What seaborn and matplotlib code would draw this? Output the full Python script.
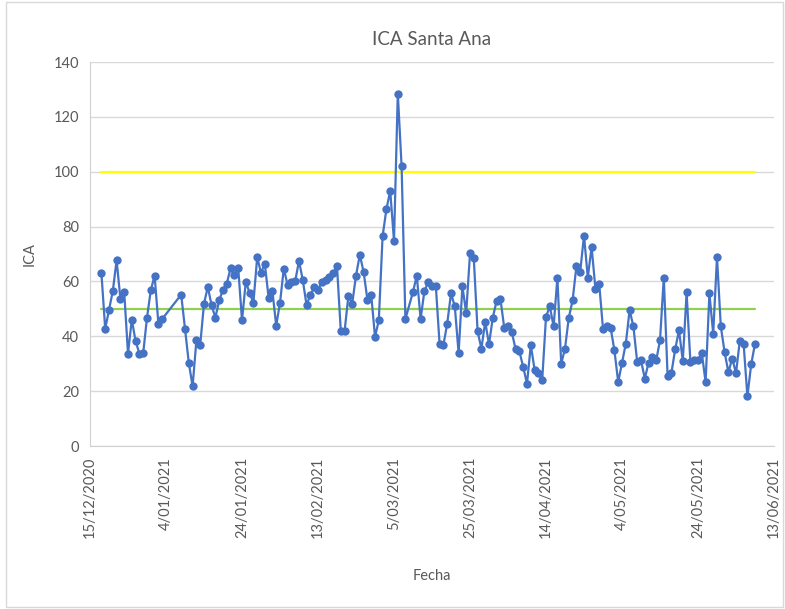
import pandas as pd
import numpy as np
import seaborn as sns
import matplotlib.pyplot as plt
import matplotlib.dates as mdates
from matplotlib.ticker import FuncFormatter, MultipleLocator
from matplotlib.patches import Rectangle

# Datos: ICA diario (Santa Ana)
# 18/12/2020 - 3/01/2021
ica_dic = [63.1, 42.7, 49.7, 56.5, 67.7, 53.7, 56.2, 33.7, 46.1, 38.2,
           33.7, 33.9, 46.8, 56.8, 62.1, 44.6, 46.3]
# 8/01/2021 - 8/03/2021
ica_ene_mar = [55.2, 42.7, 30.3, 21.8, 38.5, 36.8, 51.9, 58.0, 51.3, 46.8,
               53.1, 57.0, 59.2, 64.9, 62.5, 65.0, 45.8, 59.9, 55.8, 52.2,
               68.9, 63.1, 66.5, 54.1, 56.5, 43.9, 52.2, 64.7, 58.7, 59.8,
               60.1, 67.5, 60.4, 51.3, 55.2, 57.8, 56.8, 59.9, 60.7, 61.6,
               62.9, 65.5, 41.9, 41.9, 54.7, 51.9, 62.1, 69.7, 63.5, 53.4,
               55.2, 39.8, 45.8, 76.5, 86.3, 93.0, 74.8, 128.5, 102.0, 46.3]
# 10/03/2021 - 8/06/2021
ica_mar_jun = [56.2, 62.1, 46.3, 56.5, 59.7, 58.5, 58.5, 37.1, 36.8, 44.6,
               55.6, 50.9, 33.9, 58.2, 48.5, 70.2, 68.4, 41.8, 35.5, 45.3,
               37.1, 46.8, 52.9, 53.7, 43.2, 43.6, 41.5, 35.3, 34.5, 28.8,
               22.7, 36.8, 27.8, 26.6, 24.0, 47.1, 50.9, 43.6, 61.4, 30.0,
               35.5, 46.8, 53.1, 65.5, 63.5, 76.7, 61.4, 72.6, 57.4, 59.2,
               42.7, 43.6, 43.2, 34.9, 23.3, 30.4, 37.3, 49.5, 43.6, 30.6,
               31.2, 24.6, 30.4, 32.5, 31.2, 38.5, 61.4, 25.4, 26.6, 35.3,
               42.2, 31.0, 56.0, 30.6, 31.5, 31.2, 33.9, 23.3, 55.6, 41.0,
               68.9, 43.6, 34.2, 26.9, 31.9, 26.6, 38.3, 37.3, 18.1, 29.8,
               37.3]

fechas = pd.concat([
    pd.Series(pd.date_range('2020-12-18', '2021-01-03')),
    pd.Series(pd.date_range('2021-01-08', '2021-03-08')),
    pd.Series(pd.date_range('2021-03-10', '2021-06-08')),
], ignore_index=True)

limite_alto = 100
limite_bajo = 50

df = pd.DataFrame({'Fecha': fechas, 'ICA': ica_dic + ica_ene_mar + ica_mar_jun})
df['alto'] = limite_alto
df['bajo'] = limite_bajo

sns.set_style("white")
plt.rcParams['font.family'] = ['Lato', 'DejaVu Sans']

gris = '#595959'
fig = plt.figure(figsize=(7.85, 6.09), dpi=100)
ax = fig.add_axes([90 / 785, 1 - 446 / 609, 684 / 785, 384 / 609])

sns.lineplot(data=df, x='Fecha', y='alto', color='#FFFF00', linewidth=1.6, ax=ax)
sns.lineplot(data=df, x='Fecha', y='bajo', color='#92D050', linewidth=1.6, ax=ax)
sns.lineplot(data=df, x='Fecha', y='ICA', color='#4472C4', linewidth=1.6,
             marker='o', markersize=6, markeredgewidth=0, ax=ax)

ax.set_ylim(0, 140)
ax.yaxis.set_major_locator(MultipleLocator(20))
inicio = pd.Timestamp('2020-12-15')
fin = pd.Timestamp('2021-06-13')
ax.set_xlim(inicio, fin)
ax.set_xticks(pd.date_range(inicio, fin, freq='20D'))
ax.xaxis.set_major_formatter(FuncFormatter(
    lambda v, p: (lambda d: f"{d.day}/{d.month:02d}/{d.year}")(mdates.num2date(v))))
plt.setp(ax.get_xticklabels(), rotation=90)

ax.grid(axis='y', color='#d9d9d9', linewidth=1)
ax.set_axisbelow(True)
for lado in ['top', 'right']:
    ax.spines[lado].set_visible(False)
for lado in ['left', 'bottom']:
    ax.spines[lado].set_color('#d0d0d0')
ax.tick_params(axis='both', colors=gris, labelsize=10.5, length=0, pad=8)

ax.set_title('ICA Santa Ana', color=gris, fontsize=13.5, pad=12)
ax.set_xlabel('Fecha', color=gris, fontsize=10.5, labelpad=22)
ax.set_ylabel('ICA', color=gris, fontsize=10.5, labelpad=12)

fig.patches.append(Rectangle((6 / 785, 2 / 609), 1 - 8 / 785, 1 - 4 / 609,
                             transform=fig.transFigure, fill=False,
                             edgecolor='#d9d9d9', linewidth=1))

fig.savefig('out.png', dpi=100)
